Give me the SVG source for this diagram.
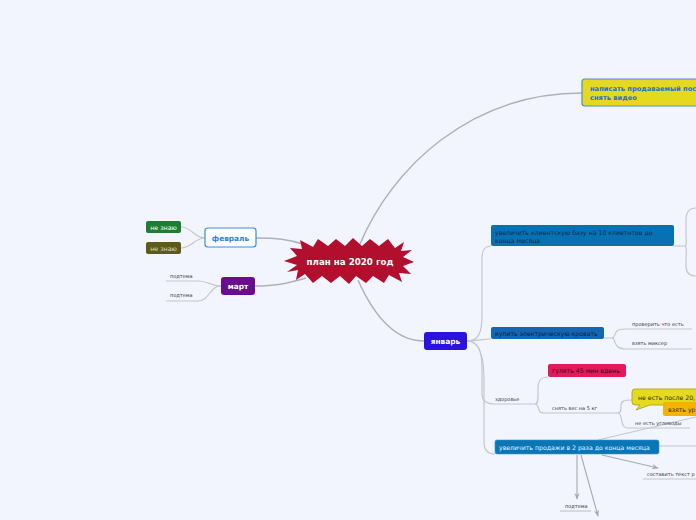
<svg xmlns="http://www.w3.org/2000/svg" width="696" height="520" viewBox="0 0 696 520">
<style>
.bg{fill:#f2f5fd}
.c{fill:none;stroke:#c3c6cd;stroke-width:1.2}
.cm{fill:none;stroke:#aeb1b9;stroke-width:1.5}
.ca{fill:none;stroke:#a6a9b1;stroke-width:1.1}
.t{font-family:"DejaVu Sans","Liberation Sans",sans-serif}
.b{font-weight:bold}
.sm{font-size:5px;fill:#333a44}
.md{font-size:6.2px}
</style>
<defs>
<marker id="ah" viewBox="0 0 10 10" refX="9" refY="5" markerWidth="6" markerHeight="6" orient="auto">
<path d="M0,1 L10,5 L0,9 L3,5 Z" fill="#a6a9b1"/>
</marker>
</defs>
<rect class="bg" width="696" height="520"/>

<g id="connectors">
<path class="cm" d="M360,244 C392,168 470,93 582,93"/>
<path class="cm" d="M358,280 C374,316 396,341 424,341"/>
<path class="cm" d="M306,245 C288,239 276,238 256,238"/>
<path class="cm" d="M306,278 C286,284 274,286 255,286"/>
<path class="c" d="M205,238 C194,238 192,227 181,227"/>
<path class="c" d="M205,238 C194,238 192,248 181,248"/>
<path class="c" d="M221,286 C210,286 209,281 198,281 L166,281"/>
<path class="c" d="M221,286 C210,286 209,301 198,301 L166,301"/>
<path class="c" d="M467,341 C479,341 482,332 482,315 L482,258 C482,250 485,246 491,246"/>
<path class="c" d="M467,341 C478,341 482,339 491,339"/>
<path class="c" d="M467,341 C478,341 482,350 482,368 L482,394 C482,401 486,404 495,404 L535,404"/>
<path class="c" d="M467,341 C479,341 484,355 484,380 L484,442 C484,450 488,454 495,454"/>
<path class="c" d="M674,246 L685,246 C687,246 686,240 686,232 L686,220 C686,212 689,208 696,208"/>
<path class="c" d="M685,246 C687,246 686,252 686,260 L686,266 C686,272 689,276 696,276"/>
<path class="c" d="M604,338 L612,338 C615,338 614,334 617,331 C619,329 622,329 626,329 L692,329"/>
<path class="c" d="M612,338 C615,338 614,343 617,346 C619,348 622,349 626,349 L692,349"/>
<path class="c" d="M535,404 C538,404 538,400 538,394 L538,388 C538,380 541,377 548,377"/>
<path class="c" d="M535,404 C538,404 538,407 539,410 C540,413 542,413 546,413 L618,413"/>
<path class="c" d="M618,413 C621,413 621,410 621,406 C621,401 624,400 632,400"/>
<path class="c" d="M618,413 C621,413 621,418 622,422 C623,427 625,428 628,428 L690,428"/>
<path class="c" d="M598,440 L696,417"/>
<path class="c" d="M659,446 L696,446"/>
<path class="ca" d="M602,455 L658,468" marker-end="url(#ah)"/>
<path class="ca" d="M577,455 L577,499" marker-end="url(#ah)"/>
<path class="ca" d="M581,455 L598,516" marker-end="url(#ah)"/>
<path class="c" d="M643,479 L696,479"/>
<path class="c" d="M560,511 L591,511"/>
</g>

<g id="center">
<polygon fill="#b10f2d" points="284,261 297,256 290,248 302,249 300,240 313,247 318,239 328,246 336,239 345,246 353,238 362,246 370,239 379,246 388,239 395,248 404,242 401,251 412,250 403,257 414,262 403,266 411,274 399,273 402,282 389,275 384,283 373,276 366,283 356,276 349,284 340,276 331,283 322,276 313,283 305,274 296,280 298,270 287,272 297,265"/>
<text class="t b" x="350" y="264.5" font-size="8.7" fill="#ffffff" text-anchor="middle">план на 2020 год</text>
</g>

<g id="node-post">
<rect x="582" y="79" width="130" height="27" rx="3" fill="#e5d91f" stroke="#4a8fd8" stroke-width="1.2"/>
<text class="t b" x="590" y="91" font-size="6.7" fill="#1f6fcf">написать продаваемый пост</text>
<text class="t b" x="590" y="100" font-size="6.7" fill="#1f6fcf">снять видео</text>
</g>

<g id="node-feb">
<rect x="205" y="228" width="51" height="19" rx="3" fill="#ffffff" stroke="#3a8be2" stroke-width="1.2"/>
<text class="t b" x="230.5" y="240.5" font-size="7.4" fill="#2a7fdc" text-anchor="middle">февраль</text>
</g>
<g id="node-dontknow1">
<rect x="146" y="221" width="35" height="12" rx="2" fill="#1f7d33"/>
<text class="t" x="163.5" y="229.5" font-size="6.3" fill="#ffffff" text-anchor="middle">не знаю</text>
</g>
<g id="node-dontknow2">
<rect x="146" y="242" width="35" height="12" rx="2" fill="#5d5c17"/>
<text class="t" x="163.5" y="250.5" font-size="6.3" fill="#dcdcc4" text-anchor="middle">не знаю</text>
</g>

<g id="node-mar">
<rect x="221" y="277" width="34" height="18" rx="3" fill="#6a0c90"/>
<text class="t b" x="238" y="288.5" font-size="7.4" fill="#ffffff" text-anchor="middle">март</text>
</g>
<g id="node-mar-sub1"><text class="t sm" x="170" y="278">подтема</text></g>
<g id="node-mar-sub2"><text class="t sm" x="170" y="297">подтема</text></g>

<g id="node-jan">
<rect x="424" y="332" width="43" height="18" rx="3" fill="#2b12df"/>
<text class="t b" x="445.5" y="343.5" font-size="7.4" fill="#ffffff" text-anchor="middle">январь</text>
</g>

<g id="node-clients">
<rect x="491" y="225" width="183" height="21" rx="2" fill="#0772b3"/>
<text class="t md" x="495" y="234.5" fill="#122a4a">увеличить клиентскую базу на 10 клиетнтов до</text>
<text class="t md" x="495" y="242.5" fill="#122a4a">конца месяца</text>
</g>

<g id="node-bed">
<rect x="491" y="327" width="113" height="12" rx="2" fill="#1465b4"/>
<text class="t md" x="495" y="335.5" fill="#0d1e3c">купить электрическую кровать</text>
</g>
<g id="node-check"><text class="t sm" x="632" y="326">проверить что есть</text></g>
<g id="node-mixer"><text class="t sm" x="632" y="345">взять миксер</text></g>

<g id="node-health"><text class="t sm" x="495" y="401">здоровье</text></g>
<g id="node-walk">
<rect x="548" y="364" width="78" height="13" rx="2" fill="#e2195a"/>
<text class="t md" x="552" y="373" fill="#3b0718">гулять 45 мин вдень</text>
</g>
<g id="node-weight"><text class="t sm" x="552" y="410">снять вес на 5 кг</text></g>
<g id="node-no-eat">
<path d="M635,389 L700,389 L700,405 L650,405 L636,410 L640,405 L635,405 Q632,405 632,402 L632,392 Q632,389 635,389 Z" fill="#e6da1e" stroke="#a69e12" stroke-width="0.8"/>
<text class="t" x="638" y="399.5" font-size="6.2" fill="#2a2a08">не есть после 20,</text>
</g>
<g id="node-take">
<rect x="663" y="402" width="40" height="14" rx="2" fill="#f5b300"/>
<text class="t" x="668" y="411.5" font-size="6.2" fill="#3a2a00">взять ур</text>
</g>
<g id="node-carbs"><text class="t sm" x="635" y="425">не есть углеводы</text></g>

<g id="node-sales">
<rect x="495" y="440" width="164" height="14" rx="2" fill="#0b76b6" stroke="#3d94cc" stroke-width="0.6"/>
<text class="t md" x="499" y="449.5" fill="#e6f2ff">увеличить продажи в 2 раза до конца месяца</text>
</g>
<g id="node-text"><text class="t sm" x="647" y="476">составить текст р</text></g>
<g id="node-sales-sub"><text class="t sm" x="565" y="508">подтема</text></g>
</svg>
